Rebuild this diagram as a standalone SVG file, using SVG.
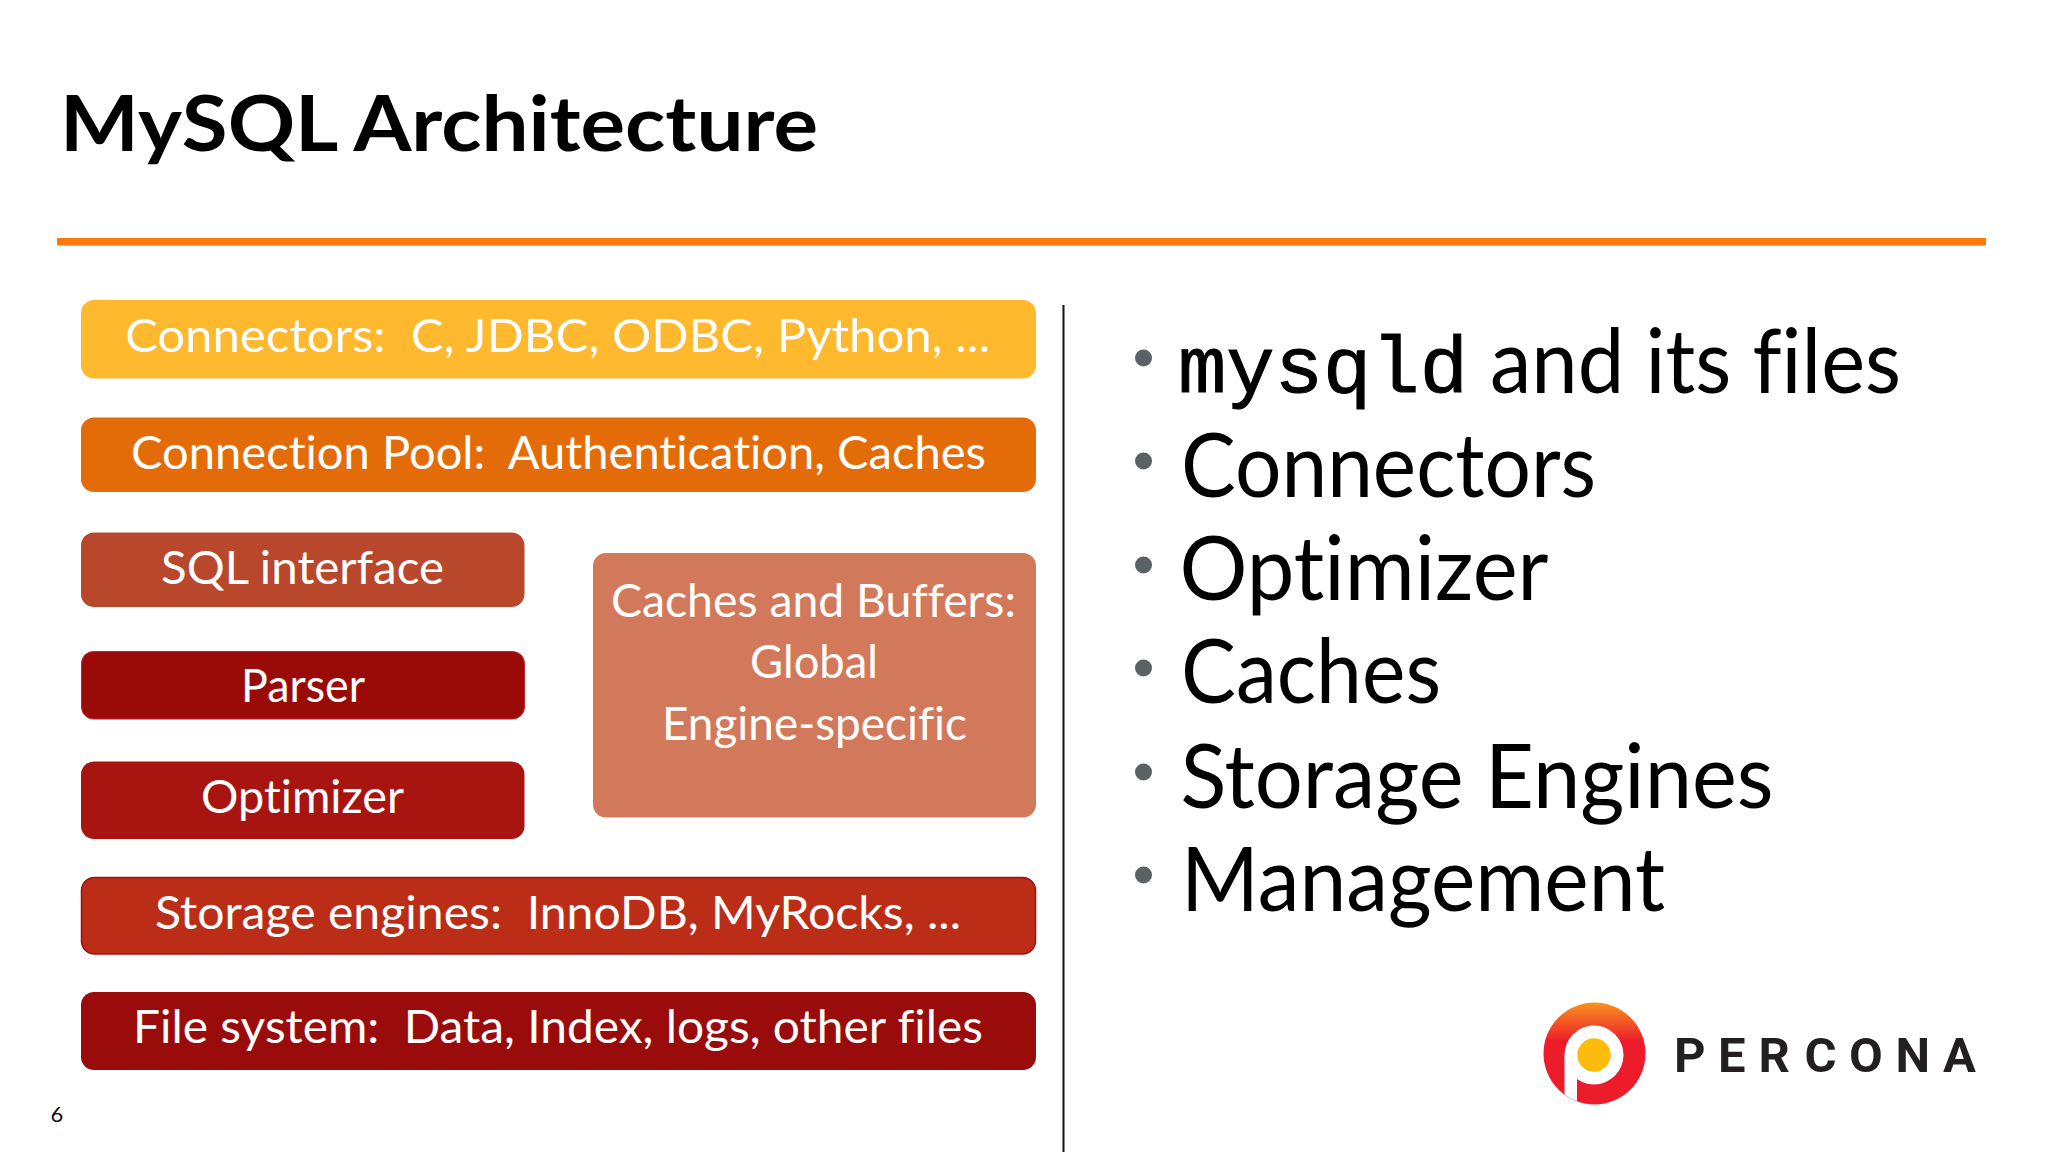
<svg xmlns="http://www.w3.org/2000/svg" width="2048" height="1152" viewBox="0 0 2048 1152">
<style>
text{font-family:"Lato","Noto Sans","Liberation Sans",sans-serif;font-variant-ligatures:none;white-space:pre}
.b{font-size:47px;fill:#fff;font-weight:400}
.l{font-size:89px;fill:#000;font-weight:400}
.d{fill:#5c6166}
</style>
<defs>
<linearGradient id="lg" x1="0" y1="0" x2="0" y2="1"><stop offset="0" stop-color="#f7941d"/><stop offset=".38" stop-color="#ed1c2b"/><stop offset="1" stop-color="#ed1c2b"/></linearGradient>
<clipPath id="lc"><circle cx="1594" cy="1053" r="51"/></clipPath>
</defs>
<rect width="2048" height="1152" fill="#fff"/>
<text id="title" x="60" y="151" fill="#000" style="font-size:77px;font-weight:700" textLength="758" lengthAdjust="spacingAndGlyphs">MySQL Architecture</text>
<rect id="rule" x="57" y="238" width="1929" height="7.5" fill="#fb7a0e"/>
<rect id="divider" x="1062.5" y="305" width="2" height="847" fill="#111"/>
<g id="connectors"><rect x="81" y="300" width="955" height="78.500" rx="13" fill="#feb92e"/><text class="b" x="125" y="352" textLength="865" lengthAdjust="spacingAndGlyphs">Connectors:  C, JDBC, ODBC, Python, ...</text></g>
<g id="pool"><rect x="81" y="417.500" width="955" height="74.500" rx="13" fill="#e36c09"/><text class="b" x="131" y="469" textLength="855" lengthAdjust="spacingAndGlyphs">Connection Pool:  Authentication, Caches</text></g>
<g id="sql"><rect x="81" y="532.500" width="443.500" height="74.500" rx="13" fill="#b8472c"/><text class="b" x="161" y="584" textLength="283" lengthAdjust="spacingAndGlyphs">SQL interface</text></g>
<g id="parser"><rect x="81.500" y="651.500" width="443" height="67.500" rx="12" fill="#9a0b08" stroke="#c21f2a" stroke-width="1"/><text class="b" x="241" y="702" textLength="124" lengthAdjust="spacingAndGlyphs">Parser</text></g>
<g id="optimizer"><rect x="81" y="761.500" width="443.500" height="77.500" rx="13" fill="#a8140f"/><text class="b" x="201" y="813" textLength="203" lengthAdjust="spacingAndGlyphs">Optimizer</text></g>
<g id="caches"><rect x="593" y="553" width="443" height="264.500" rx="13" fill="#d3795b"/>
<text class="b" x="611" y="617" textLength="405" lengthAdjust="spacingAndGlyphs">Caches and Buffers:</text>
<text class="b" x="750" y="678" textLength="128" lengthAdjust="spacingAndGlyphs">Global</text>
<text class="b" x="662" y="739.500" textLength="305" lengthAdjust="spacingAndGlyphs">Engine-specific</text></g>
<g id="storage"><rect x="81.500" y="877.500" width="954" height="76.500" rx="13" fill="#bb2d16" stroke="#9f1010" stroke-width="1.500"/><text class="b" x="155" y="928.500" textLength="806" lengthAdjust="spacingAndGlyphs">Storage engines:  InnoDB, MyRocks, ...</text></g>
<g id="filesystem"><rect x="81" y="992" width="955" height="78" rx="13" fill="#9a0b0b"/><text class="b" x="133" y="1043" textLength="850" lengthAdjust="spacingAndGlyphs">File system:  Data, Index, logs, other files</text></g>
<text id="page" x="50.500" y="1122" style="font-size:22px" fill="#111">6</text>
<g id="bullets">
<circle class="d" cx="1143.500" cy="358" r="8.500"/><circle class="d" cx="1143.500" cy="461" r="8.500"/><circle class="d" cx="1143.500" cy="565" r="8.500"/><circle class="d" cx="1143.500" cy="668" r="8.500"/><circle class="d" cx="1143.500" cy="772" r="8.500"/><circle class="d" cx="1143.500" cy="875" r="8.500"/>
<text x="1178" y="392" style="font-family:'Liberation Mono','DejaVu Sans Mono',monospace;font-size:80px" fill="#000" stroke="#000" stroke-width="1" textLength="290" lengthAdjust="spacingAndGlyphs">mysqld</text>
<text class="l" x="1490" y="392.500" textLength="411" lengthAdjust="spacingAndGlyphs">and its files</text>
<text class="l" x="1181" y="496.500" textLength="415" lengthAdjust="spacingAndGlyphs">Connectors</text>
<text class="l" x="1179.500" y="599.500" textLength="369" lengthAdjust="spacingAndGlyphs">Optimizer</text>
<text class="l" x="1181" y="703" textLength="260" lengthAdjust="spacingAndGlyphs">Caches</text>
<text class="l" x="1180.500" y="807.500" textLength="593" lengthAdjust="spacingAndGlyphs">Storage Engines</text>
<text class="l" x="1181" y="910.500" textLength="484" lengthAdjust="spacingAndGlyphs">Management</text>
</g>
<g id="logo">
<circle cx="1594.500" cy="1053.500" r="51" fill="url(#lg)"/>
<g clip-path="url(#lc)"><circle cx="1594" cy="1055" r="29.500" fill="#fff"/><rect x="1564.500" y="1055" width="12.500" height="50" fill="#fff"/></g>
<circle cx="1594" cy="1055" r="16.700" fill="#fbbc0e"/>
<text x="1674 1718 1758.500 1804.500 1849 1895.500 1943" y="1072" style="font-family:Roboto,'Liberation Sans',sans-serif;font-size:49px;font-weight:700" fill="#231f20">PERCONA</text>
</g>
</svg>
